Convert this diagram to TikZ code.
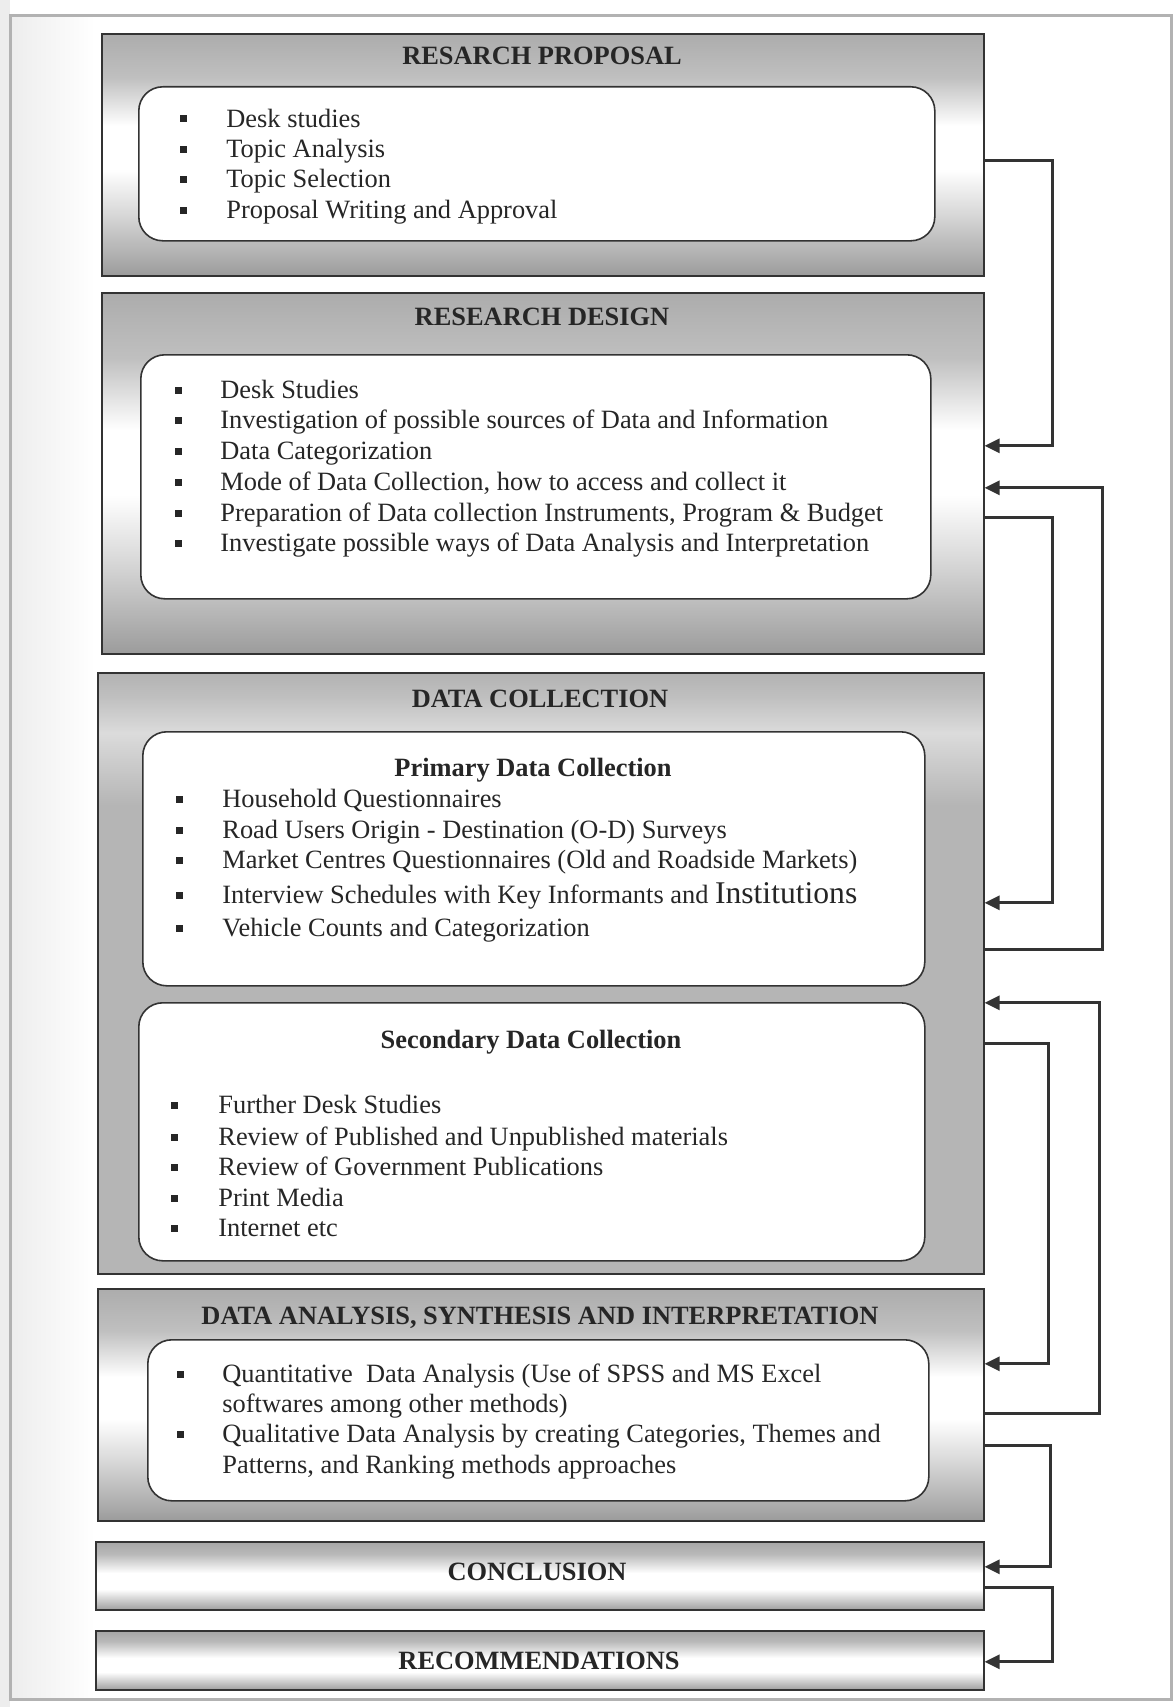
\documentclass[tikz,border=0pt]{standalone}
\usepackage{fontspec}
\setmainfont{Liberation Serif}
\usetikzlibrary{arrows.meta}
\usetikzlibrary{positioning}

\pgfdeclareverticalshading{metal}{100bp}{color(0bp)=(gray!78); color(25bp)=(gray!78); color(38bp)=(gray!30); color(47bp)=(white); color(56bp)=(white); color(66bp)=(gray!50); color(75bp)=(gray!65); color(100bp)=(gray!65)}
\pgfdeclareverticalshading{flat}{100bp}{color(0bp)=(gray!58); color(64bp)=(gray!58); color(70bp)=(gray!28); color(73bp)=(gray!50); color(75bp)=(gray!60); color(100bp)=(gray!60)}
\pgfdeclareverticalshading{tube}{100bp}{color(0bp)=(gray!75); color(25bp)=(gray!75); color(40bp)=(white); color(52bp)=(white); color(66bp)=(gray!55); color(75bp)=(gray!70); color(100bp)=(gray!70)}

\tikzset{
  outerbox/.style={draw=black!80, line width=0.8pt, shading=metal, inner sep=0pt, anchor=north west},
  innerbox/.style={draw=black!80, line width=0.8pt, fill=white, rounded corners=12pt, inner sep=0pt, anchor=north west},
  boxtitle/.style={font=\fontsize{13.2}{15}\selectfont\bfseries, text=black!85, anchor=base, inner sep=0pt},
  item/.style={font=\fontsize{13.2}{15}\selectfont, text=black!85, anchor=base west, inner sep=0pt},
  bullet/.style={fill=black!85},
  conn/.style={draw=black!80, line width=1.5pt, -{Triangle[length=7.5pt,width=7pt]}},
}

\begin{document}
\begin{tikzpicture}[x=0.5pt,y=-0.5pt]
\useasboundingbox (0,0) rectangle (1176,1707);
\fill[white] (0,0) rectangle (1176,1707);
\fill[gray!14] (0,0) rectangle (10,1707);
\shade[left color=gray!14, right color=white] (11,17) rectangle (95,1698);
\draw[gray!60, line width=1.5pt] (10,16) rectangle (1171,1699);

% stages
\node[outerbox, minimum width=441pt, minimum height=121pt] (prop) at (101,33) {};
\node[outerbox, minimum width=441pt, minimum height=180.5pt] (design) at (101,292) {};
\node[outerbox, shading=flat, minimum width=443pt, minimum height=300.5pt] (collect) at (97,672) {};
\node[outerbox, minimum width=443pt, minimum height=116pt] (analysis) at (97,1288) {};
\node[outerbox, shading=tube, minimum width=444pt, minimum height=34pt] (concl) at (95,1541) {};
\node[outerbox, shading=tube, minimum width=444pt, minimum height=29.5pt] (recom) at (95,1630) {};

\node[innerbox, minimum width=398pt, minimum height=77pt] (propin) at (138,86) {};
\node[innerbox, minimum width=395pt, minimum height=122pt] (designin) at (140,354) {};
\node[innerbox, minimum width=391pt, minimum height=127pt] (primin) at (142,731) {};
\node[innerbox, minimum width=393pt, minimum height=129pt] (secin) at (138,1002) {};
\node[innerbox, minimum width=390.5pt, minimum height=80.5pt] (anain) at (147,1339) {};

\node[boxtitle] (propt) at (542,65) {RESARCH PROPOSAL};
\node[boxtitle] (designt) at (542,325) {RESEARCH DESIGN};
\node[boxtitle] (collectt) at (540,707) {DATA COLLECTION};
\node[boxtitle] (primt) at (533,776) {Primary Data Collection};
\node[boxtitle] (sect) at (531,1048) {Secondary Data Collection};
\node[boxtitle] (anat) at (540,1324) {DATA ANALYSIS, SYNTHESIS AND INTERPRETATION};
\node[boxtitle] (conclt) at (537,1580) {CONCLUSION};
\node[boxtitle] (recomt) at (539,1669) {RECOMMENDATIONS};

% lists
\foreach \yy/\txt [count=\i] in {127/Desk studies, 157/Topic Analysis, 187/Topic Selection, 218/Proposal Writing and Approval}
  {\fill[bullet] (179.5,\yy-11.5) rectangle ++(7,7);
   \node[item] (propi\i) at (226,\yy) {\txt};}
\foreach \yy/\txt [count=\i] in {398/Desk Studies, 428/Investigation of possible sources of Data and Information, 459/Data Categorization, 490/{Mode of Data Collection, how to access and collect it}, 521/{Preparation of Data collection Instruments, Program \& Budget}, 551/Investigate possible ways of Data Analysis and Interpretation}
  {\fill[bullet] (174.5,\yy-11.5) rectangle ++(7,7);
   \node[item] (designi\i) at (220,\yy) {\txt};}
\foreach \yy/\txt [count=\i] in {807/Household Questionnaires, 838/Road Users Origin - Destination (O-D) Surveys, 868/Market Centres Questionnaires (Old and Roadside Markets), 903/Interview Schedules with Key Informants and {\fontsize{15.8}{18}\selectfont Institutions}, 936/Vehicle Counts and Categorization}
  {\fill[bullet] (175.5,\yy-11.5) rectangle ++(7,7);
   \node[item] (primi\i) at (222,\yy) {\txt};}
\foreach \yy/\txt [count=\i] in {1113/Further Desk Studies, 1145/Review of Published and Unpublished materials, 1175/Review of Government Publications, 1206/Print Media, 1236/Internet etc}
  {\fill[bullet] (170.5,\yy-11.5) rectangle ++(7,7);
   \node[item] (seci\i) at (218,\yy) {\txt};}
\fill[bullet] (176.5,1370.5) rectangle ++(7,7);
\fill[bullet] (176.5,1430.5) rectangle ++(7,7);
\node[item] (anai1) at (222,1382) {Quantitative\ \ Data Analysis (Use of SPSS and MS Excel};
\node[item] (anai2) at (222,1412) {softwares among other methods)};
\node[item] (anai3) at (222,1442) {Qualitative Data Analysis by creating Categories, Themes and};
\node[item] (anai4) at (222,1473) {Patterns, and Ranking methods approaches};

% flow and feedback
\draw[conn] ([yshift=-3pt]prop.east) -- ++(68,0) |- ([yshift=13.75pt]design.east);
\draw[conn] ([yshift=-22.25pt]design.east) -- ++(68,0) |- ([yshift=35.25pt]collect.east);
\draw[conn] ([yshift=11.75pt]collect.east) -- ++(118,0) |- ([yshift=-7.25pt]design.east);
\draw[conn] ([yshift=-35.25pt]collect.east) -- ++(64,0) |- ([yshift=20.5pt]analysis.east);
\draw[conn] ([yshift=-4.5pt]analysis.east) -- ++(115,0) |- ([yshift=-14.75pt]collect.east);
\draw[conn] ([yshift=-20.5pt]analysis.east) -- ++(66,0) |- ([yshift=4.5pt]concl.east);
\draw[conn] ([yshift=-6pt]concl.east) -- ++(68,0) |- ([yshift=-0.75pt]recom.east);
\end{tikzpicture}
\end{document}
